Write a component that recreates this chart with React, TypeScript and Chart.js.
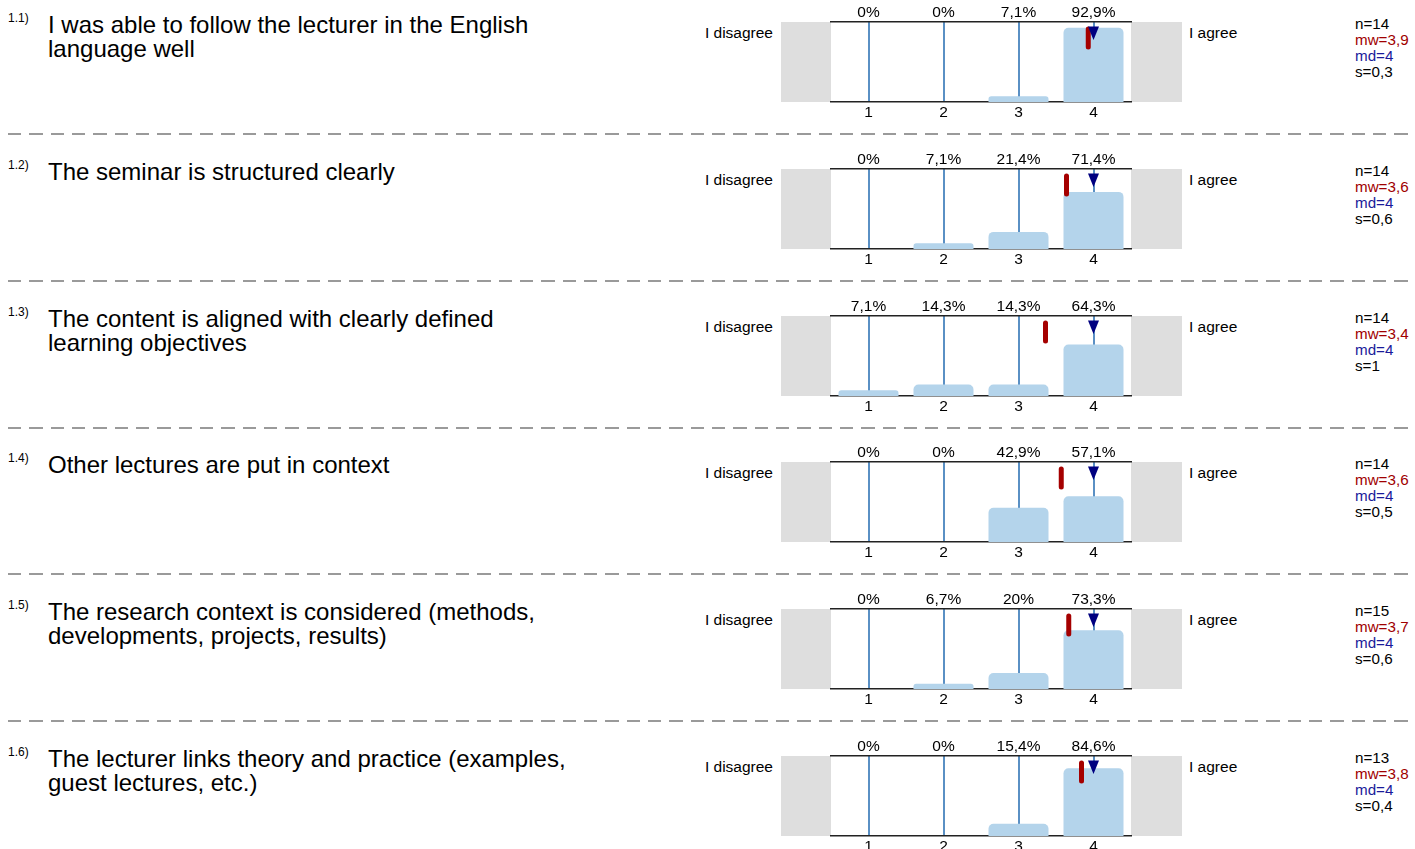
import React, { useEffect, useRef } from "react";
import { Chart, registerables } from "chart.js";

Chart.register(...registerables);

// ---------- data ----------
const questionNumbers = ["1.1)", "1.2)", "1.3)", "1.4)", "1.5)", "1.6)"];
const questionTexts = [
  "I was able to follow the lecturer in the English\nlanguage well",
  "The seminar is structured clearly",
  "The content is aligned with clearly defined\nlearning objectives",
  "Other lectures are put in context",
  "The research context is considered (methods,\ndevelopments, projects, results)",
  "The lecturer links theory and practice (examples,\nguest lectures, etc.)",
];
const categories = ["1", "2", "3", "4"];
const dist1 = [0, 0, 7.1, 92.9];
const dist2 = [0, 7.1, 21.4, 71.4];
const dist3 = [7.1, 14.3, 14.3, 64.3];
const dist4 = [0, 0, 42.9, 57.1];
const dist5 = [0, 6.7, 20, 73.3];
const dist6 = [0, 0, 15.4, 84.6];
const distributions = [dist1, dist2, dist3, dist4, dist5, dist6];
const nValues = [14, 14, 14, 14, 15, 13];
const meanValues = [3.93, 3.64, 3.36, 3.57, 3.67, 3.84];
const medianValues = [4, 4, 4, 4, 4, 4];
const sdValues = [0.3, 0.6, 1, 0.5, 0.6, 0.4];
const leftPole = "I disagree";
const rightPole = "I agree";

// ---------- style ----------
const FONT = "'Liberation Sans', Arial, Helvetica, sans-serif";
const BAR = "#b4d4eb";
const GRIDLINE = "#5a90c4";
const GREY = "#dedede";
const AXIS = "#222222";
const RED = "#a50000";
const NAVY = "#000080";
const ROW_TOP = 22;
const ROW_PITCH = 146.8;

const comma = (v: number) => String(v).replace(".", ",");

function MiniChart({ values, mean, median, top }: { values: number[]; mean: number; median: number; top: number }) {
  const ref = useRef<HTMLCanvasElement>(null);
  useEffect(() => {
    if (!ref.current) return;
    const decor = {
      id: "decor",
      beforeDraw(chart: any) {
        const { ctx, chartArea: a } = chart;
        ctx.save();
        ctx.fillStyle = GREY;
        ctx.fillRect(0, a.top, a.left, a.bottom - a.top);
        ctx.fillRect(a.right, a.top, chart.width - a.right, a.bottom - a.top);
        ctx.restore();
      },
      afterDraw(chart: any) {
        const { ctx, chartArea: a } = chart;
        const xs = chart.scales.x;
        const mx = xs.getPixelForValue(mean - 1);
        ctx.save();
        ctx.strokeStyle = RED;
        ctx.lineWidth = 5;
        ctx.lineCap = "round";
        ctx.beginPath();
        ctx.moveTo(mx, a.top + 7);
        ctx.lineTo(mx, a.top + 25);
        ctx.stroke();
        const dx = xs.getPixelForValue(median - 1);
        ctx.fillStyle = NAVY;
        ctx.beginPath();
        ctx.moveTo(dx - 5.5, a.top + 4.5);
        ctx.lineTo(dx + 5.5, a.top + 4.5);
        ctx.lineTo(dx, a.top + 18);
        ctx.closePath();
        ctx.fill();
        ctx.restore();
      },
    };
    const tickFont = { family: FONT, size: 15.5 };
    const chart = new Chart(ref.current, {
      type: "bar",
      data: {
        labels: categories,
        datasets: [
          {
            data: values,
            xAxisID: "x",
            yAxisID: "y",
            backgroundColor: BAR,
            borderWidth: 0,
            borderRadius: 5,
            barPercentage: 0.8,
            categoryPercentage: 1,
          },
        ],
      },
      options: {
        responsive: false,
        animation: false,
        events: [],
        layout: { padding: { left: 50, right: 51, top: 0, bottom: 0 } },
        plugins: { legend: { display: false }, tooltip: { enabled: false }, title: { display: false } },
        scales: {
          x: {
            type: "category",
            axis: "x",
            position: "bottom",
            offset: true,
            z: 1,
            grid: { offset: false, color: GRIDLINE, lineWidth: 2, drawTicks: false },
            border: { display: true, color: AXIS, width: 1.5 },
            ticks: { color: "#000", font: tickFont, padding: 1, maxRotation: 0, autoSkip: false },
            afterFit: (s: any) => {
              s.height = 23;
            },
          },
          xTop: {
            type: "category",
            axis: "x",
            position: "top",
            labels: values.map((v) => comma(v) + "%"),
            offset: true,
            grid: { display: false, drawTicks: false },
            border: { display: true, color: AXIS, width: 1.5 },
            ticks: { color: "#000", font: tickFont, padding: 0, maxRotation: 0, autoSkip: false },
            afterFit: (s: any) => {
              s.height = 22;
            },
          },
          y: { display: false, min: 0, max: 100 },
        },
      } as any,
      plugins: [decor],
    });
    return () => chart.destroy();
  }, [values, mean, median]);
  return (
    <canvas
      ref={ref}
      width={401}
      height={125}
      style={{ position: "absolute", left: 781, top: top - 22, width: 401, height: 125 }}
    />
  );
}

export default function App() {
  return (
    <div
      style={{
        position: "absolute",
        left: 0,
        top: 0,
        width: 1415,
        height: 849,
        overflow: "hidden",
        background: "#fff",
        fontFamily: FONT,
        color: "#000",
      }}
    >
      {distributions.map((vals, i) => {
        const t = Math.round(ROW_TOP + i * ROW_PITCH);
        return (
          <React.Fragment key={i}>
            <div style={{ position: "absolute", left: 8, top: t - 11, fontSize: 12, lineHeight: "14px" }}>
              {questionNumbers[i]}
            </div>
            <div
              style={{
                position: "absolute",
                left: 48,
                top: t - 9,
                fontSize: 24,
                lineHeight: "24px",
                whiteSpace: "pre",
              }}
            >
              {questionTexts[i]}
            </div>
            <div
              style={{
                position: "absolute",
                right: 1415 - 773,
                top: t + 2,
                fontSize: 15.5,
                lineHeight: "18px",
                whiteSpace: "nowrap",
              }}
            >
              {leftPole}
            </div>
            <div
              style={{
                position: "absolute",
                left: 1189,
                top: t + 2,
                fontSize: 15.5,
                lineHeight: "18px",
                whiteSpace: "nowrap",
              }}
            >
              {rightPole}
            </div>
            <MiniChart values={vals} mean={meanValues[i]} median={medianValues[i]} top={t} />
            <div style={{ position: "absolute", left: 1355, top: t - 6, fontSize: 15.2, lineHeight: "16px" }}>
              <div>n={nValues[i]}</div>
              <div style={{ color: "#a00000" }}>mw={comma(Number(meanValues[i].toFixed(1)))}</div>
              <div style={{ color: "#1a1a9a" }}>md={comma(medianValues[i])}</div>
              <div>s={comma(sdValues[i])}</div>
            </div>
            {i < distributions.length - 1 && (
              <div
                style={{
                  position: "absolute",
                  left: 8,
                  top: t + 111,
                  width: 1401,
                  height: 2,
                  background:
                    "repeating-linear-gradient(to right, #9a9a9a 0px, #9a9a9a 13.3px, transparent 13.3px, transparent 21.33px)",
                }}
              />
            )}
          </React.Fragment>
        );
      })}
    </div>
  );
}
